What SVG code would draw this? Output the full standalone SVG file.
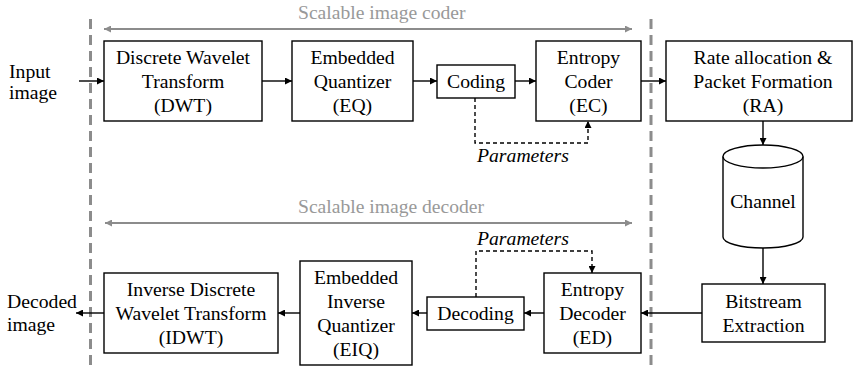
<svg xmlns="http://www.w3.org/2000/svg" width="853" height="368" viewBox="0 0 853 368">
<style>
text{font-family:"Liberation Serif","Times New Roman",serif;font-size:19.7px;fill:#000}
.box{fill:#fff;stroke:#000;stroke-width:1.4}
.t{text-anchor:middle}
.it{font-style:italic}
.g{font-size:19.6px;fill:#999}
.a{fill:none;stroke:#000;stroke-width:1.4;marker-end:url(#ah)}
.d{fill:none;stroke:#000;stroke-width:1.4;stroke-dasharray:4 3;marker-end:url(#ah)}
.ga{fill:none;stroke:#8c8c8c;stroke-width:2.2;marker-start:url(#gh);marker-end:url(#gh)}
.sep{stroke:#8c8c8c;stroke-width:3;stroke-dasharray:10 6}
</style>
<defs>
<marker id="ah" viewBox="0 0 10 10" refX="10" refY="5" markerWidth="7" markerHeight="7" markerUnits="userSpaceOnUse" orient="auto"><path d="M0,0 L10,5 L0,10 z" fill="#000"/></marker>
<marker id="gh" viewBox="0 0 10 10" refX="10" refY="5" markerWidth="9" markerHeight="7" markerUnits="userSpaceOnUse" orient="auto-start-reverse"><path d="M0,0 L10,5 L0,10 z" fill="#8c8c8c"/></marker>
</defs>
<g id="separators">
<line class="sep" x1="90.5" y1="19" x2="90.5" y2="368"/>
<line class="sep" x1="651" y1="19" x2="651" y2="368"/>
</g>
<g id="coder-span">
<line class="ga" x1="104" y1="29" x2="632" y2="29"/>
<text class="g" x="298" y="19">Scalable image coder</text>
</g>
<g id="decoder-span">
<line class="ga" x1="105" y1="223" x2="632" y2="223"/>
<text class="g" x="298" y="213">Scalable image decoder</text>
</g>
<g id="input"><text x="9" y="78">Input</text><text x="9" y="99">image</text></g>
<g id="output"><text x="7" y="308">Decoded</text><text x="7" y="331">image</text></g>
<g id="dwt"><rect class="box" x="104" y="41" width="158" height="80"/>
<text class="t" x="183" y="64">Discrete Wavelet</text><text class="t" x="183" y="88">Transform</text><text class="t" x="183" y="112">(DWT)</text></g>
<g id="eq"><rect class="box" x="292" y="41" width="121" height="80"/>
<text class="t" x="352.5" y="64">Embedded</text><text class="t" x="352.5" y="88">Quantizer</text><text class="t" x="352.5" y="112">(EQ)</text></g>
<g id="coding"><rect class="box" x="437" y="65" width="78" height="33"/>
<text class="t" x="476" y="88">Coding</text></g>
<g id="ec"><rect class="box" x="536" y="41" width="105" height="80"/>
<text class="t" x="588.5" y="64">Entropy</text><text class="t" x="588.5" y="88">Coder</text><text class="t" x="588.5" y="112">(EC)</text></g>
<g id="ra"><rect class="box" x="666" y="41" width="186" height="80"/>
<text class="t" x="763" y="64">Rate allocation &amp;</text><text class="t" x="763" y="88">Packet Formation</text><text class="t" x="763" y="112">(RA)</text></g>
<g id="channel">
<path class="box" d="M723,156.5 L723,237 A40,11 0 0 0 803,237 L803,156.5"/>
<ellipse class="box" cx="763" cy="156.5" rx="40" ry="11.5"/>
<text class="t" x="763" y="208">Channel</text></g>
<g id="bitstream"><rect class="box" x="702" y="284" width="123" height="58"/>
<text class="t" x="763.5" y="308">Bitstream</text><text class="t" x="763.5" y="332">Extraction</text></g>
<g id="ed"><rect class="box" x="544" y="273" width="97" height="80"/>
<text class="t" x="592.5" y="296">Entropy</text><text class="t" x="592.5" y="320">Decoder</text><text class="t" x="592.5" y="344">(ED)</text></g>
<g id="decoding"><rect class="box" x="427" y="297" width="97" height="33"/>
<text class="t" x="475.5" y="320">Decoding</text></g>
<g id="eiq"><rect class="box" x="300" y="261" width="112" height="104"/>
<text class="t" x="356" y="284">Embedded</text><text class="t" x="356" y="308">Inverse</text><text class="t" x="356" y="332">Quantizer</text><text class="t" x="356" y="356">(EIQ)</text></g>
<g id="idwt"><rect class="box" x="104" y="273" width="174" height="80"/>
<text class="t" x="191" y="296">Inverse Discrete</text><text class="t" x="191" y="320">Wavelet Transform</text><text class="t" x="191" y="344">(IDWT)</text></g>
<g id="connectors">
<line class="a" x1="79" y1="81" x2="104" y2="81"/>
<line class="a" x1="262" y1="81" x2="292" y2="81"/>
<line class="a" x1="413" y1="81" x2="437" y2="81"/>
<line class="a" x1="515" y1="81" x2="536" y2="81"/>
<line class="a" x1="641" y1="81" x2="666" y2="81"/>
<path class="d" d="M475,98 V143 H588 V121"/>
<line class="a" x1="763" y1="121" x2="763" y2="145"/>
<line class="a" x1="763" y1="248" x2="763" y2="284"/>
<line class="a" x1="702" y1="313" x2="641" y2="313"/>
<line class="a" x1="544" y1="313" x2="524" y2="313"/>
<line class="a" x1="427" y1="313" x2="412" y2="313"/>
<line class="a" x1="300" y1="313" x2="278" y2="313"/>
<line class="a" x1="104" y1="313" x2="76" y2="313"/>
<path class="d" d="M476,297 V251 H592 V273"/>
<text class="it" x="477" y="162">Parameters</text>
<text class="it" x="477" y="245">Parameters</text>
</g>
</svg>
